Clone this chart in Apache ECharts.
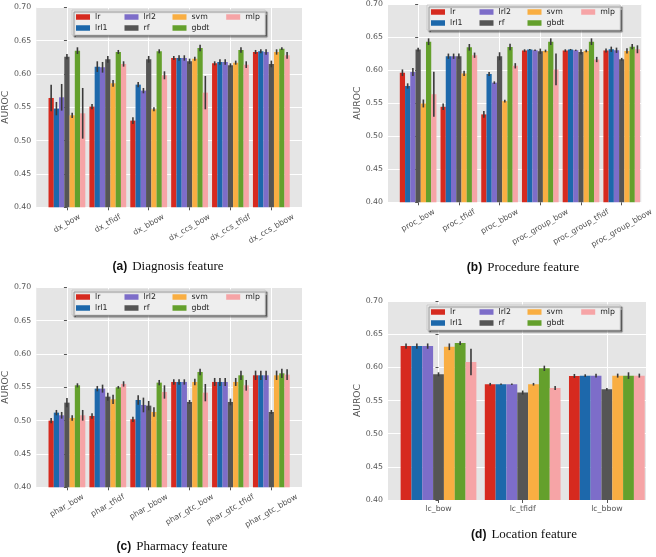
<!DOCTYPE html>
<html>
<head>
<meta charset="utf-8">
<script src="https://cdn.jsdelivr.net/npm/echarts@6/dist/echarts.min.js"></script>
<style>
  html, body { margin: 0; background: #fff; }
  #chart { width: 656px; height: 557px; }
</style>
</head>
<body>
<div id="chart"></div>
<script>
// models (hue) and their colours
const models = ['lr', 'lrl1', 'lrl2', 'rf', 'svm', 'gbdt', 'mlp'];
const colors = ['#d62a1f', '#1d68ab', '#7d6dc9', '#555555', '#f9ae42', '#64a02c', '#f6a4a6'];

// (a) diagnosis
const dxCats = ['dx_bow', 'dx_tfidf', 'dx_bbow', 'dx_ccs_bow', 'dx_ccs_tfidf', 'dx_ccs_bbow'];
const dxMean = [
  [0.564, 0.551, 0.530, 0.624, 0.616, 0.633],
  [0.548, 0.611, 0.584, 0.624, 0.618, 0.634],
  [0.565, 0.610, 0.575, 0.624, 0.618, 0.633],
  [0.626, 0.622, 0.622, 0.619, 0.613, 0.615],
  [0.538, 0.586, 0.547, 0.623, 0.617, 0.633],
  [0.635, 0.633, 0.634, 0.639, 0.636, 0.638],
  [0.541, 0.615, 0.598, 0.572, 0.614, 0.628]
];
const dxErr = [
  [0.020, 0.004, 0.005, 0.003, 0.003, 0.003],
  [0.010, 0.008, 0.004, 0.004, 0.004, 0.003],
  [0.020, 0.008, 0.004, 0.004, 0.004, 0.004],
  [0.004, 0.005, 0.005, 0.004, 0.003, 0.005],
  [0.004, 0.005, 0.003, 0.003, 0.003, 0.004],
  [0.005, 0.003, 0.003, 0.005, 0.004, 0.002],
  [0.038, 0.004, 0.006, 0.025, 0.005, 0.005]
];

// (b) procedure
const procCats = ['proc_bow', 'proc_tfidf', 'proc_bbow', 'proc_group_bow', 'proc_group_tfidf', 'proc_group_bbow'];
const procMean = [
  [0.596, 0.5445, 0.533, 0.6295, 0.6295, 0.6295],
  [0.576, 0.621, 0.594, 0.631, 0.631, 0.6315],
  [0.597, 0.621, 0.581, 0.630, 0.630, 0.630],
  [0.631, 0.621, 0.621, 0.6285, 0.6275, 0.6165],
  [0.5495, 0.595, 0.553, 0.629, 0.629, 0.629],
  [0.643, 0.6345, 0.635, 0.643, 0.643, 0.6355],
  [0.5635, 0.6225, 0.6065, 0.601, 0.616, 0.6315]
];
const procErr = [
  [0.005, 0.005, 0.005, 0.002, 0.002, 0.003],
  [0.004, 0.004, 0.003, 0.001, 0.001, 0.004],
  [0.006, 0.004, 0.002, 0.001, 0.001, 0.004],
  [0.003, 0.004, 0.006, 0.004, 0.004, 0.002],
  [0.006, 0.004, 0.002, 0.002, 0.002, 0.004],
  [0.005, 0.005, 0.005, 0.005, 0.005, 0.004],
  [0.034, 0.004, 0.004, 0.024, 0.004, 0.006]
];

// (c) pharmacy
const pharCats = ['phar_bow', 'phar_tfidf', 'phar_bbow', 'phar_gtc_bow', 'phar_gtc_tfidf', 'phar_gtc_bbow'];
const pharMean = [
  [0.500, 0.507, 0.502, 0.558, 0.558, 0.568],
  [0.512, 0.548, 0.531, 0.558, 0.558, 0.568],
  [0.508, 0.548, 0.5235, 0.558, 0.558, 0.568],
  [0.527, 0.536, 0.5225, 0.528, 0.528, 0.513],
  [0.504, 0.532, 0.513, 0.558, 0.558, 0.568],
  [0.553, 0.550, 0.557, 0.573, 0.568, 0.571],
  [0.508, 0.555, 0.543, 0.542, 0.553, 0.569]
];
const pharErr = [
  [0.004, 0.004, 0.004, 0.004, 0.006, 0.007],
  [0.004, 0.004, 0.007, 0.004, 0.006, 0.007],
  [0.005, 0.006, 0.011, 0.004, 0.006, 0.007],
  [0.007, 0.006, 0.007, 0.003, 0.005, 0.003],
  [0.004, 0.007, 0.007, 0.005, 0.006, 0.007],
  [0.003, 0.002, 0.004, 0.005, 0.007, 0.007],
  [0.008, 0.004, 0.010, 0.013, 0.008, 0.008]
];

// (d) location
const lcCats = ['lc_bow', 'lc_tfidf', 'lc_bbow'];
const lcMean = [
  [0.632, 0.5745, 0.587],
  [0.632, 0.5745, 0.5875],
  [0.632, 0.5745, 0.5875],
  [0.5895, 0.562, 0.567],
  [0.631, 0.5745, 0.5875],
  [0.6365, 0.5985, 0.5875],
  [0.608, 0.569, 0.5875]
];
const lcErr = [
  [0.004, 0.002, 0.003],
  [0.004, 0.001, 0.002],
  [0.004, 0.001, 0.003],
  [0.003, 0.003, 0.002],
  [0.005, 0.002, 0.003],
  [0.003, 0.004, 0.005],
  [0.020, 0.003, 0.003]
];

const panels = [
  { cats: dxCats, mean: dxMean, err: dxErr, tag: '(a)', cap: 'Diagnosis feature',
    grid: { left: 34, top: 7.3, width: 268, height: 200 }, xr: [-0.75, 5.75], rotate: 30,
    leg: [72, 10], capPos: [168, 257.5] },
  { cats: procCats, mean: procMean, err: procErr, tag: '(b)', cap: 'Procedure feature',
    grid: { left: 388, top: 2.8, width: 257, height: 199.5 }, xr: [-0.74, 5.48], rotate: 30,
    leg: [427, 5], capPos: [523, 259] },
  { cats: pharCats, mean: pharMean, err: pharErr, tag: '(c)', cap: 'Pharmacy feature',
    grid: { left: 34, top: 287.3, width: 268, height: 200 }, xr: [-0.75, 5.75], rotate: 30,
    leg: [72, 290], capPos: [172, 537.5] },
  { cats: lcCats, mean: lcMean, err: lcErr, tag: '(d)', cap: 'Location feature',
    grid: { left: 388, top: 301, width: 258, height: 199 }, xr: [-0.6, 2.465], rotate: 0,
    leg: [427, 305], capPos: [524, 525.5] }
];

const tickFont = 7.8;
const groupWidth = 0.9;
const ctx = document.createElement('canvas').getContext('2d');
ctx.font = tickFont + 'px "DejaVu Sans"';

// matplotlib aligns the rotated bbox top; shift longer labels down with padding
function labelRich(cats, rotate) {
  const rich = {};
  cats.forEach((c, i) => {
    const L = ctx.measureText(c).width;
    const d = rotate ? L / 4 : 0;
    rich['t' + i] = {
      fontFamily: 'DejaVu Sans', fontSize: tickFont, color: '#555',
      padding: [1.732 * d, d, 0, 0]
    };
  });
  return rich;
}

// legend columns (matplotlib ncol=4 fills column-wise)
const legendOrder = ['lr', 'lrl2', 'svm', 'mlp', 'lrl1', 'rf', 'gbdt'];
const colOf = { lr: 0, lrl1: 0, lrl2: 1, rf: 1, svm: 2, gbdt: 2, mlp: 3 };
const colW = [26.5, 26, 31.7, 16];
const legRich = {};
colW.forEach((w, i) => {
  legRich['c' + i] = { width: w, fontFamily: 'DejaVu Sans', fontSize: tickFont, color: '#222', lineHeight: 9 };
});

const option = {
  animation: false,
  title: [], grid: [], xAxis: [], yAxis: [], legend: [], series: []
};

panels.forEach((p, k) => {
  const idx = p.cats.map((c, i) => i);
  option.grid.push(Object.assign({
    show: true, backgroundColor: '#e5e5e5', borderWidth: 0
  }, p.grid));
  option.xAxis.push({
    type: 'value', gridIndex: k, min: p.xr[0], max: p.xr[1],
    axisLine: { show: false },
    axisTick: { show: true, length: 3, customValues: idx, lineStyle: { color: '#555' } },
    axisLabel: {
      customValues: idx,
      rotate: p.rotate,
      align: 'center',
      verticalAlign: p.rotate ? 'middle' : 'top',
      margin: p.rotate ? 9 : 5,
      formatter: v => '{t' + Math.round(v) + '|' + p.cats[Math.round(v)] + '}',
      rich: labelRich(p.cats, p.rotate)
    },
    splitLine: { show: true, lineStyle: { color: '#ffffff', width: 1 } }
  });
  option.yAxis.push({
    type: 'value', gridIndex: k, min: 0.4, max: 0.7, interval: 0.05,
    name: 'AUROC', nameLocation: 'middle', nameGap: 24.5,
    nameTextStyle: { fontFamily: 'DejaVu Sans', fontSize: 9.2, color: '#555' },
    axisLine: { show: false },
    axisTick: { show: true, length: 3, lineStyle: { color: '#555' } },
    axisLabel: {
      margin: 5, fontFamily: 'DejaVu Sans', fontSize: tickFont, color: '#555',
      formatter: v => v.toFixed(2)
    },
    splitLine: { show: true, lineStyle: { color: '#ffffff', width: 1 } }
  });
  option.legend.push({
    data: legendOrder, left: p.leg[0], top: p.leg[1], width: 186,
    orient: 'horizontal', itemGap: 3, itemWidth: 14, itemHeight: 5.5,
    icon: 'rect', padding: [3, 4, 3, 4],
    backgroundColor: '#eeeeee', borderColor: '#c4c4c4', borderWidth: 0.8,
    shadowColor: 'rgba(0,0,0,0.55)', shadowBlur: 1, shadowOffsetX: 2, shadowOffsetY: 2,
    selectedMode: false,
    formatter: name => '{c' + colOf[name] + '|' + name + '}',
    textStyle: { rich: legRich }
  });
  option.title.push({
    text: '{b|' + p.tag + '} {s|' + p.cap + '}',
    left: p.capPos[0], top: p.capPos[1], textAlign: 'center', padding: 0,
    textStyle: {
      fontWeight: 'normal',
      rich: {
        b: { fontFamily: 'Liberation Sans', fontWeight: 'bold', fontSize: 12, color: '#111' },
        s: { fontFamily: 'Liberation Serif', fontWeight: 'normal', fontSize: 13, color: '#111' }
      }
    }
  });
  models.forEach((m, j) => {
    option.series.push({
      type: 'bar', name: m, xAxisIndex: k, yAxisIndex: k,
      barGap: '0%', barCategoryGap: '10%',
      itemStyle: { color: colors[j] },
      data: idx.map(i => [i, p.mean[j][i]])
    });
  });
  const errData = [];
  models.forEach((m, j) => {
    idx.forEach(i => errData.push([i, j, p.mean[j][i], p.err[j][i]]));
  });
  option.series.push({
    type: 'custom', xAxisIndex: k, yAxisIndex: k, silent: true, z: 5,
    encode: { x: 0, y: 2 },
    data: errData,
    renderItem: (params, api) => {
      const x = api.value(0), j = api.value(1), v = api.value(2), e = api.value(3);
      // centre of bar j inside the group around x
      const xc = x - groupWidth / 2 + groupWidth * (j + 0.5) / models.length;
      const lo = api.coord([xc, v - e]);
      const hi = api.coord([xc, v + e]);
      return {
        type: 'line',
        shape: { x1: lo[0], y1: lo[1], x2: hi[0], y2: hi[1] },
        style: { stroke: '#3a3a3a', lineWidth: 1.6 }
      };
    }
  });
});

const chart = echarts.init(document.getElementById('chart'));
chart.setOption(option);
</script>
</body>
</html>
